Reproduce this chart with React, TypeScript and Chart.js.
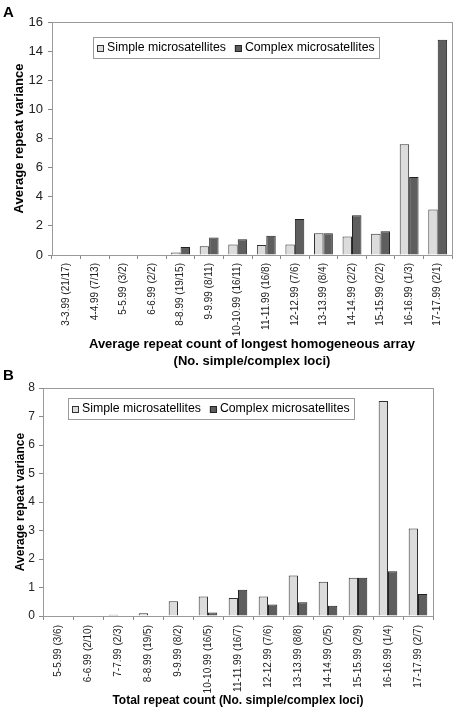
import React, { useEffect, useRef } from "react";
import { Chart, registerables } from "chart.js";

Chart.register(...registerables);

const FONT = "'Liberation Sans', Arial, Helvetica, sans-serif";

const seriesNames = ["Simple microsatellites", "Complex microsatellites"];

const catsA = [
  "3-3.99 (21/17)", "4-4.99 (7/13)", "5-5.99 (3/2)", "6-6.99 (2/2)",
  "8-8.99 (19/15)", "9-9.99 (8/11)", "10-10.99 (16/11)", "11-11.99 (16/8)",
  "12-12.99 (7/6)", "13-13.99 (8/4)", "14-14.99 (2/2)", "15-15.99 (2/2)",
  "16-16.99 (1/3)", "17-17.99 (2/1)",
];
const simpleA = [0, 0, 0, 0, 0.17, 0.6, 0.72, 0.68, 0.72, 1.5, 1.27, 1.46, 7.6, 3.13];
const complexA = [0, 0, 0, 0, 0.55, 1.2, 1.08, 1.32, 2.47, 1.5, 2.73, 1.63, 5.35, 14.78];
const yTicksA = { max: 16, step: 2 };

const catsB = [
  "5-5.99 (3/6)", "6-6.99 (2/10)", "7-7.99 (2/3)", "8-8.99 (19/5)",
  "9-9.99 (8/2)", "10-10.99 (16/5)", "11-11.99 (16/7)", "12-12.99 (7/6)",
  "13-13.99 (8/8)", "14-14.99 (2/5)", "15-15.99 (2/9)", "16-16.99 (1/4)",
  "17-17.99 (2/7)",
];
const simpleB = [0, 0, 0.04, 0.1, 0.52, 0.68, 0.63, 0.68, 1.42, 1.2, 1.34, 7.54, 3.07];
const complexB = [0, 0, 0, 0, 0, 0.12, 0.92, 0.4, 0.48, 0.36, 1.34, 1.57, 0.77];
const yTicksB = { max: 8, step: 1 };

const titleXA = ["Average repeat count of longest homogeneous array", "(No. simple/complex loci)"];
const titleXB = "Total repeat count (No. simple/complex loci)";
const titleY = "Average repeat variance";

const boxLegend = {
  id: "boxLegend",
  afterDraw(chart: any, _args: any, opts: any) {
    const { ctx, chartArea } = chart;
    const x = Math.round(chartArea.left + opts.dx);
    const y = Math.round(chartArea.top + opts.dy);
    ctx.save();
    ctx.font = `${opts.size}px ${FONT}`;
    const items = chart.data.datasets.map((d: any) => ({
      label: d.label, fill: d.backgroundColor, stroke: d.borderColor,
      w: ctx.measureText(d.label).width,
    }));
    const mk = 7, gap = 3, itemGap = 9, padX = 4;
    let total = padX;
    items.forEach((it: any, i: number) => {
      total += mk + gap + it.w + (i < items.length - 1 ? itemGap : 0);
    });
    total += padX;
    const h = opts.h;
    ctx.fillStyle = "#ffffff";
    ctx.fillRect(x, y, total, h);
    ctx.strokeStyle = "#9a9a9a";
    ctx.lineWidth = 1;
    ctx.strokeRect(x + 0.5, y + 0.5, Math.round(total), h);
    let cx = x + padX;
    const cy = y + h / 2 + 0.5;
    items.forEach((it: any) => {
      ctx.fillStyle = it.fill;
      ctx.fillRect(cx, Math.round(cy - mk / 2), mk, mk);
      ctx.strokeStyle = it.stroke;
      ctx.strokeRect(cx + 0.5, Math.round(cy - mk / 2) + 0.5, mk - 1, mk - 1);
      cx += mk + gap;
      ctx.fillStyle = "#000";
      ctx.textBaseline = "middle";
      ctx.textAlign = "left";
      ctx.fillText(it.label, cx, cy);
      cx += it.w + itemGap;
    });
    ctx.restore();
  },
};

const plotBorder = {
  id: "plotBorder",
  beforeDatasetsDraw(chart: any) {
    const { ctx, chartArea } = chart;
    ctx.save();
    ctx.strokeStyle = "#9a9a9a";
    ctx.lineWidth = 1;
    ctx.strokeRect(
      Math.round(chartArea.left) + 0.5,
      Math.round(chartArea.top) + 0.5,
      Math.round(chartArea.right - chartArea.left),
      Math.round(chartArea.bottom - chartArea.top)
    );
    ctx.restore();
  },
};

type P = {
  cats: string[]; simple: number[]; complex: number[]; max: number; step: number;
  xTitle: any; padTop: number; padRight: number; xH: number; yW: number;
  cp: number; tickSize: number; titleSize: number; yTitlePad: number; xTitlePad: number;
  legend: any; yTickPad: number; xTickPad: number;
};

function makeConfig(p: P): any {
  return {
    type: "bar",
    data: {
      labels: p.cats,
      datasets: [
        {
          label: seriesNames[0], data: p.simple, backgroundColor: "#dcdcdc",
          borderColor: "#333333", borderWidth: 1, categoryPercentage: p.cp, barPercentage: 1,
        },
        {
          label: seriesNames[1], data: p.complex, backgroundColor: "#5e5e5e",
          borderColor: "#222222", borderWidth: 1, categoryPercentage: p.cp, barPercentage: 1,
        },
      ],
    },
    options: {
      responsive: false,
      animation: false,
      devicePixelRatio: 1,
      layout: { padding: { top: p.padTop, right: p.padRight, left: 0, bottom: 0 } },
      plugins: {
        legend: { display: false },
        tooltip: { enabled: false },
        boxLegend: p.legend,
      },
      scales: {
        x: {
          grid: { display: true, drawOnChartArea: false, drawTicks: true, tickLength: 4, color: "#888888", offset: true },
          border: { display: true, color: "#888888" },
          ticks: {
            autoSkip: false, maxRotation: 90, minRotation: 90, padding: p.xTickPad, color: "#222",
            font: { family: FONT, size: 10 },
          },
          title: {
            display: true, text: p.xTitle, color: "#000",
            font: { family: FONT, size: p.titleSize, weight: "bold", lineHeight: 1.3 },
            padding: { top: 0, bottom: p.xTitlePad },
          },
          afterFit: (s: any) => { s.height = p.xH; },
        },
        y: {
          min: 0, max: p.max,
          grid: { display: true, drawOnChartArea: false, drawTicks: true, tickLength: 4, color: "#888888" },
          border: { display: true, color: "#888888" },
          ticks: {
            stepSize: p.step, padding: p.yTickPad, color: "#222",
            font: { family: FONT, size: p.tickSize },
          },
          title: {
            display: true, text: titleY, color: "#000",
            font: { family: FONT, size: p.titleSize, weight: "bold", lineHeight: 1.2 },
            padding: { top: p.yTitlePad, bottom: 0 },
          },
          afterFit: (s: any) => { s.width = p.yW; },
        },
      },
    },
    plugins: [plotBorder, boxLegend],
  };
}

function BarChart({ p, w, h }: { p: P; w: number; h: number }) {
  const ref = useRef<HTMLCanvasElement | null>(null);
  useEffect(() => {
    if (!ref.current) return;
    const chart = new Chart(ref.current, makeConfig(p));
    return () => chart.destroy();
  }, []);
  return <canvas ref={ref} width={w} height={h} style={{ display: "block", width: w, height: h }} />;
}

const pA: P = {
  cats: catsA, simple: simpleA, complex: complexA, max: yTicksA.max, step: yTicksA.step,
  xTitle: titleXA, padTop: 22, padRight: 4, xH: 117, yW: 52, cp: 0.66,
  tickSize: 13, titleSize: 13, yTitlePad: 12, xTitlePad: 2, yTickPad: 5, xTickPad: 4,
  legend: { dx: 41, dy: 15, h: 21, size: 12.3 },
};

const pB: P = {
  cats: catsB, simple: simpleB, complex: complexB, max: yTicksB.max, step: yTicksB.step,
  xTitle: titleXB, padTop: 16, padRight: 23, xH: 95, yW: 43, cp: 0.62,
  tickSize: 12, titleSize: 12, yTitlePad: 13, xTitlePad: 3, yTickPad: 4, xTickPad: 5,
  legend: { dx: 25, dy: 10, h: 21, size: 12.3 },
};

export default function App() {
  const labelStyle: React.CSSProperties = {
    position: "absolute", left: 3, fontFamily: FONT, fontWeight: "bold",
    fontSize: 15, lineHeight: "15px", color: "#000",
  };
  return (
    <div style={{ position: "absolute", left: 0, top: 0, width: 456, height: 711, background: "#fff", overflow: "hidden" }}>
      <div style={{ position: "absolute", left: 0, top: 0 }}>
        <BarChart p={pA} w={456} h={372} />
      </div>
      <div style={{ position: "absolute", left: 0, top: 372 }}>
        <BarChart p={pB} w={456} h={339} />
      </div>
      <div style={{ ...labelStyle, top: 4 }}>A</div>
      <div style={{ ...labelStyle, top: 367 }}>B</div>
    </div>
  );
}
